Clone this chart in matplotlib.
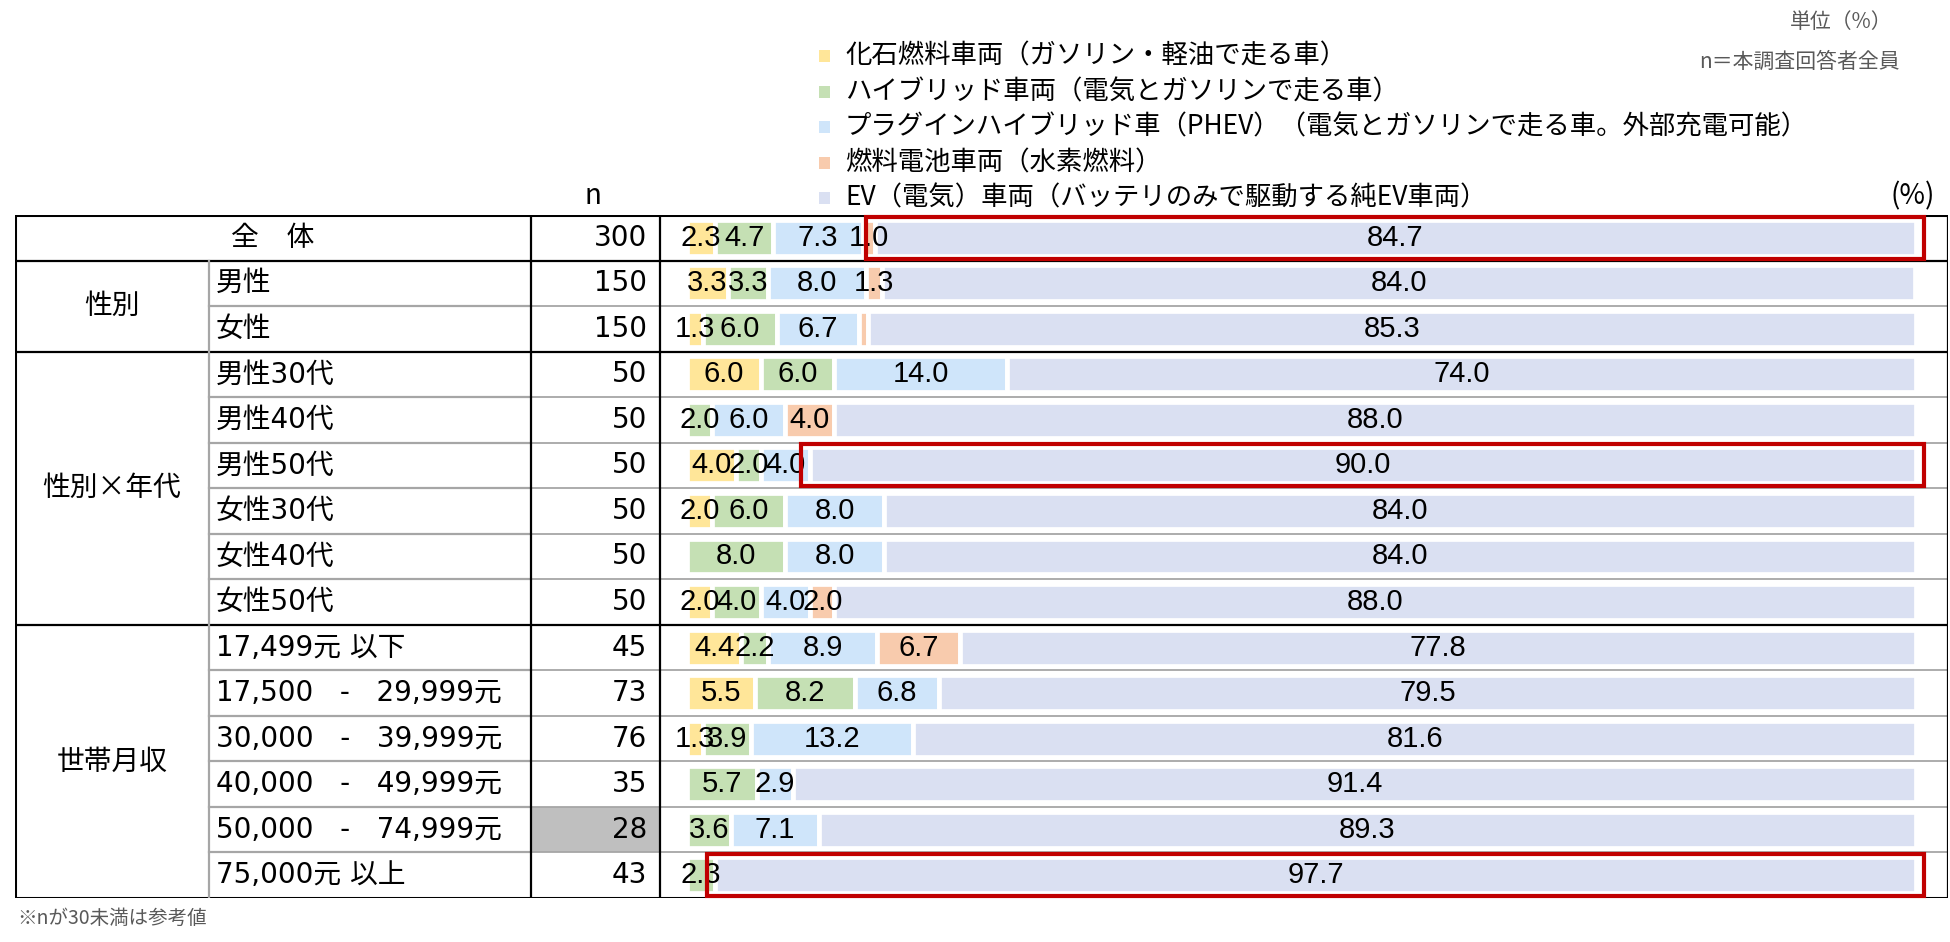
import matplotlib
matplotlib.use("Agg")
import matplotlib.pyplot as plt
from matplotlib.patches import Rectangle

plt.rcParams['font.family'] = ['Noto Sans CJK JP', 'DejaVu Sans']

# data
series = ['化石燃料車両（ガソリン・軽油で走る車）',
          'ハイブリッド車両（電気とガソリンで走る車）',
          'プラグインハイブリッド車（PHEV）（電気とガソリンで走る車。外部充電可能）',
          '燃料電池車両（水素燃料）',
          'EV（電気）車両（バッテリのみで駆動する純EV車両）']
colors = ['#FFE699', '#C5E0B4', '#CFE5FA', '#F8CBAD', '#DAE0F2']

rows = ['全　体', '男性', '女性', '男性30代', '男性40代', '男性50代', '女性30代',
        '女性40代', '女性50代', '17,499元 以下', '17,500   -   29,999元',
        '30,000   -   39,999元', '40,000   -   49,999元', '50,000   -   74,999元',
        '75,000元 以上']
groups = [('性別', 1, 2), ('性別×年代', 3, 8), ('世帯月収', 9, 14)]
n_vals = [300, 150, 150, 50, 50, 50, 50, 50, 50, 45, 73, 76, 35, 28, 43]

fossil = [2.3, 3.3, 1.3, 6.0, 0.0, 4.0, 2.0, 0.0, 2.0, 4.4, 5.5, 1.3, 0.0, 0.0, 0.0]
hybrid = [4.7, 3.3, 6.0, 6.0, 2.0, 2.0, 6.0, 8.0, 4.0, 2.2, 8.2, 3.9, 5.7, 3.6, 2.3]
phev = [7.3, 8.0, 6.7, 14.0, 6.0, 4.0, 8.0, 8.0, 4.0, 8.9, 6.8, 13.2, 2.9, 7.1, 0.0]
fcv = [1.0, 1.3, 0.7, 0.0, 4.0, 0.0, 0.0, 0.0, 2.0, 6.7, 0.0, 0.0, 0.0, 0.0, 0.0]
ev = [84.7, 84.0, 85.3, 74.0, 88.0, 90.0, 84.0, 84.0, 88.0, 77.8, 79.5, 81.6, 91.4, 89.3, 97.7]
highlight = [0, 5, 14]
small_n = [13]

W, H = 1950, 942
fig = plt.figure(figsize=(W / 100, H / 100), dpi=100)

top, bottom = 215, 898
left, right = 15, 1948
bar_l, bar_r = 687, 1916
c1, c2, c3 = 209, 531, 660
nrow = len(rows)

latin = ['DejaVu Sans', 'Noto Sans CJK JP']
numfont = 'Liberation Sans'

# table axes (x in pixels, y in rows)
axt = fig.add_axes([left / W, 1 - bottom / H, (right - left) / W, (bottom - top) / H])
axt.set_xlim(left, right)
axt.set_ylim(nrow - 0.5, -0.5)
axt.axis('off')

for i in small_n:
    axt.add_patch(Rectangle((c2, i - 0.5), c3 - c2, 1, facecolor='#BFBFBF', edgecolor='none'))

group_edges = [0.5] + [g[2] + 0.5 for g in groups[:-1]]
for i in range(1, nrow):
    y = i - 0.5
    if y in group_edges:
        axt.plot([left, right], [y, y], color='black', lw=1.6)
    else:
        axt.plot([c1, c2], [y, y], color='#A6A6A6', lw=1.6)
        axt.plot([c2, right], [y, y], color='#A6A6A6', lw=1.3)
axt.plot([left, right], [-0.5, -0.5], color='black', lw=2.2)
axt.plot([left, right], [nrow - 0.5, nrow - 0.5], color='black', lw=2.2)
axt.plot([left, left], [-0.5, nrow - 0.5], color='black', lw=2.2)
axt.plot([right, right], [-0.5, nrow - 0.5], color='black', lw=1.6)
axt.plot([c1, c1], [0.5, nrow - 0.5], color='#A6A6A6', lw=1.6)
axt.plot([c2, c2], [-0.5, nrow - 0.5], color='black', lw=1.6)
axt.plot([c3, c3], [-0.5, nrow - 0.5], color='black', lw=1.6)

axt.text((left + c2) / 2, 0, rows[0], ha='center', va='center', fontsize=20)
for i in range(1, nrow):
    axt.text(216, i, rows[i], ha='left', va='center', fontsize=20, family=latin)
for g, a, b in groups:
    axt.text((left + c1) / 2, (a + b) / 2, g, ha='center', va='center', fontsize=20)
for i, n in enumerate(n_vals):
    axt.text(647, i, str(n), ha='right', va='center', fontsize=20, family=latin)

# bar axes
axb = fig.add_axes([bar_l / W, 1 - bottom / H, (bar_r - bar_l) / W, (bottom - top) / H])
axb.set_xlim(0, 100)
axb.set_ylim(nrow - 0.5, -0.5)
axb.axis('off')

ypos = list(range(nrow))
lefts = [0.0] * nrow
for vals, col in zip([fossil, hybrid, phev, fcv, ev], colors):
    axb.barh(ypos, vals, left=lefts, height=0.79, color=col, edgecolor='white', linewidth=3.4)
    for i, v in enumerate(vals):
        if v >= 1.0:
            axb.text(lefts[i] + v / 2, i, f'{v:.1f}', ha='center', va='center',
                     fontsize=21, family=numfont, color='black')
    lefts = [l + v for l, v in zip(lefts, vals)]

for i in highlight:
    start = 100 - ev[i]
    axb.add_patch(Rectangle((start - 0.7, i - 0.46), ev[i] + 1.35, 0.92, fill=False,
                            edgecolor='#C00000', lw=3.0, clip_on=False, zorder=5))

# legend and headers
leg_y = [56, 92, 127, 163, 198]
for s, col, y in zip(series, colors, leg_y):
    fig.patches.append(Rectangle((819 / W, 1 - (y + 6) / H), 11 / W, 12 / H,
                                 facecolor=col, edgecolor='none', transform=fig.transFigure))
    fig.text(845 / W, 1 - y / H, s, ha='left', va='center', fontsize=19)

fig.text(593 / W, 1 - 196 / H, 'n', ha='center', va='center', fontsize=20)
fig.text(1913 / W, 1 - 196 / H, '(%)', ha='center', va='center', fontsize=20)
fig.text(1841 / W, 1 - 22 / H, '単位（%）', ha='center', va='center', fontsize=15, color='#595959')
fig.text(1900 / W, 1 - 62 / H, 'n＝本調査回答者全員', ha='right', va='center', fontsize=15, color='#595959')
fig.text(17 / W, 1 - 918 / H, '※nが30未満は参考値', ha='left', va='center', fontsize=14, color='#595959')

fig.savefig('out.png', dpi=100)
